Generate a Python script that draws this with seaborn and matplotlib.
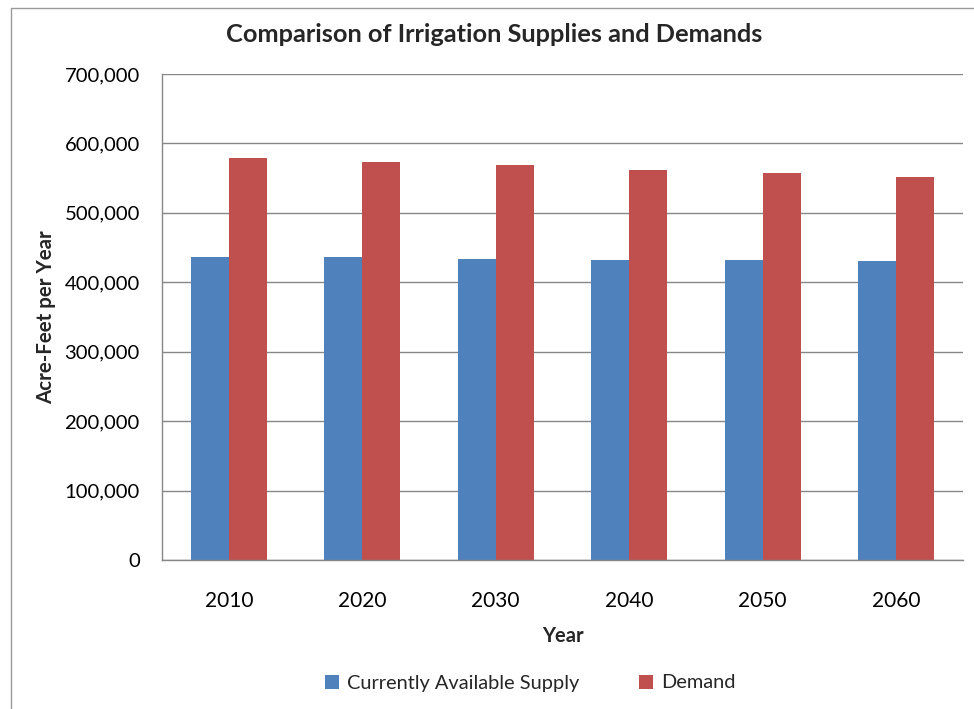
import pandas as pd
import seaborn as sns
import matplotlib.pyplot as plt
from matplotlib.patches import Patch
from matplotlib.lines import Line2D
from matplotlib.ticker import FuncFormatter, FixedLocator

# data
years = ['2010', '2020', '2030', '2040', '2050', '2060']
supply = [435700, 435700, 434200, 432800, 432800, 431300]
demand = [579100, 572900, 568600, 562300, 557400, 551200]
series_names = ['Currently Available Supply', 'Demand']
colors = ['#4F81BD', '#C0504D']

df = pd.DataFrame({
    'Year': years * 2,
    'Value': supply + demand,
    'Series': [series_names[0]] * len(years) + [series_names[1]] * len(years),
})

sns.set_style('white')
plt.rcParams['font.family'] = ['Lato', 'DejaVu Sans']

fig = plt.figure(figsize=(9.74, 7.09), dpi=100)
ax = fig.add_axes([162 / 974, 1 - 560 / 709, (963 - 162) / 974, (560 - 74) / 709])

sns.barplot(data=df, x='Year', y='Value', hue='Series', palette=colors,
            width=0.57, saturation=1, linewidth=0, ax=ax, legend=False)

grid_col = '#878787'
ax.set_ylim(0, 700000)
ax.set_xlim(-0.5, len(years) - 0.5)
ax.set_yticks(range(0, 700001, 100000))
ax.yaxis.set_major_formatter(FuncFormatter(lambda v, p: f'{int(v):,}'))
ax.yaxis.grid(True, color=grid_col, linewidth=1)
ax.set_axisbelow(True)

for s in ['top', 'right']:
    ax.spines[s].set_visible(False)
for s in ['left', 'bottom']:
    ax.spines[s].set_color(grid_col)
    ax.spines[s].set_linewidth(1)

ax.tick_params(axis='y', length=5, width=1, color=grid_col, pad=11,
               labelsize=14.6, labelcolor='black')
ax.tick_params(axis='x', which='major', length=0, pad=22,
               labelsize=15, labelcolor='black')
ax.xaxis.set_minor_locator(FixedLocator([i - 0.5 for i in range(len(years) + 1)]))
ax.tick_params(axis='x', which='minor', length=5, width=1, color=grid_col)

ax.set_xlabel('Year', fontsize=14.5, fontweight='bold', labelpad=11)
ax.set_ylabel('Acre-Feet per Year', fontsize=14.8, fontweight='bold', labelpad=6)

fig.text(494 / 974, 1 - 35 / 709, 'Comparison of Irrigation Supplies and Demands',
         ha='center', va='center', fontsize=18.3, fontweight='bold')

handles = [Patch(facecolor=c, edgecolor='none') for c in colors]
fig.legend(handles, series_names, loc='center', bbox_to_anchor=(530 / 974, 1 - 683 / 709),
           ncol=2, frameon=False, fontsize=14.4, handlelength=0.7, handleheight=0.7,
           columnspacing=3.0, handletextpad=0.4)

# outer chart frame (only left and top edges visible)
fig.add_artist(Line2D([11 / 974, 11 / 974], [0, 1 - 8 / 709], color='#9a9a9a', lw=1,
                      transform=fig.transFigure))
fig.add_artist(Line2D([11 / 974, 1], [1 - 8 / 709, 1 - 8 / 709], color='#9a9a9a', lw=1,
                      transform=fig.transFigure))

fig.savefig('out.png', dpi=100)
